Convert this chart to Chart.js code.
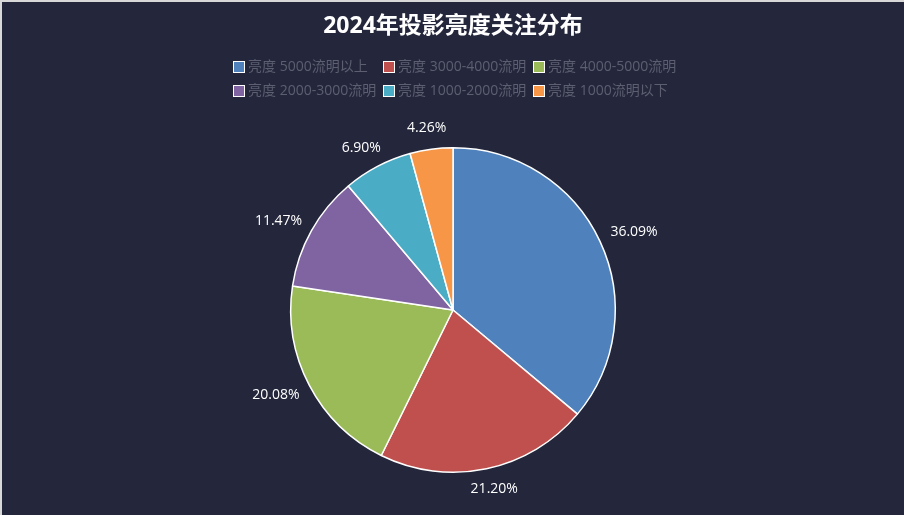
<!DOCTYPE html>
<html>
<head>
<meta charset="utf-8">
<script src="https://cdn.jsdelivr.net/npm/chart.js@4"></script>
<style>
    html, body { margin: 0; padding: 0; background: #24273c; }
    #wrap {
        width: 902px; height: 513px;
        border-top: 2px solid #d8d8d8;
        border-left: 2px solid #d8d8d8;
        background: #24273c;
    }
</style>
</head>
<body>
<div id="wrap"><canvas id="brightness-chart" width="902" height="513"></canvas></div>
<script>
const categories = ['亮度 5000流明以上', '亮度 3000-4000流明', '亮度 4000-5000流明', '亮度 2000-3000流明', '亮度 1000-2000流明', '亮度 1000流明以下'];
const shares = [36.09, 21.20, 20.08, 11.47, 6.90, 4.26];
const sliceColors = ['#4f81bd', '#c0504d', '#9bbb59', '#8064a2', '#4bacc6', '#f79646'];

const LABEL_FONT = '14px "Open Sans", "Noto Sans CJK SC", sans-serif';
const LEGEND_FONT = '14px "Open Sans", "Noto Sans CJK SC", sans-serif';

// 外侧百分比标签
const outsideLabels = {
    id: 'outsideLabels',
    afterDatasetsDraw(chart) {
        const ctx = chart.ctx;
        const meta = chart.getDatasetMeta(0);
        ctx.save();
        ctx.font = LABEL_FONT;
        ctx.fillStyle = '#ffffff';
        ctx.textAlign = 'center';
        ctx.textBaseline = 'middle';
        meta.data.forEach((arc, i) => {
            const mid = (arc.startAngle + arc.endAngle) / 2;
            const text = shares[i].toFixed(2) + '%';
            const w = ctx.measureText(text).width;
            const cos = Math.cos(mid), sin = Math.sin(mid);
            const r = arc.outerRadius + 21;
            ctx.fillText(text, arc.x + cos * (r + 0.7 * w / 2), arc.y + sin * r);
        });
        ctx.restore();
    }
};

// 两行三列的图例
const gridLegend = {
    id: 'gridLegend',
    afterDraw(chart) {
        const ctx = chart.ctx;
        ctx.save();
        ctx.font = LEGEND_FONT;
        ctx.textBaseline = 'middle';
        categories.forEach((name, i) => {
            const col = i % 3, row = Math.floor(i / 3);
            const x = 231 + col * 150;
            const y = 65 + row * 24;
            ctx.fillStyle = sliceColors[i];
            ctx.fillRect(x, y - 6, 12, 12);
            ctx.strokeStyle = '#ffffff';
            ctx.lineWidth = 1;
            ctx.strokeRect(x + 0.5, y - 5.5, 11, 11);
            ctx.fillStyle = '#5d5f70';
            ctx.fillText(name, x + 15, y);
        });
        ctx.restore();
    }
};

new Chart(document.getElementById('brightness-chart'), {
    type: 'pie',
    data: {
        labels: categories,
        datasets: [{
            data: shares,
            backgroundColor: sliceColors,
            borderColor: '#ffffff',
            borderWidth: 1.5
        }]
    },
    options: {
        responsive: false,
        animation: false,
        layout: {
            padding: { top: 0, bottom: 42, left: 0, right: 0 }
        },
        plugins: {
            legend: { display: false },
            tooltip: { enabled: false },
            title: {
                display: true,
                text: '2024年投影亮度关注分布',
                color: '#ffffff',
                font: { size: 23, weight: 'bold', family: '"Open Sans", "Noto Sans CJK SC", sans-serif' },
                padding: { top: 11, bottom: 106.4 }
            }
        }
    },
    plugins: [outsideLabels, gridLegend]
});
</script>
</body>
</html>
